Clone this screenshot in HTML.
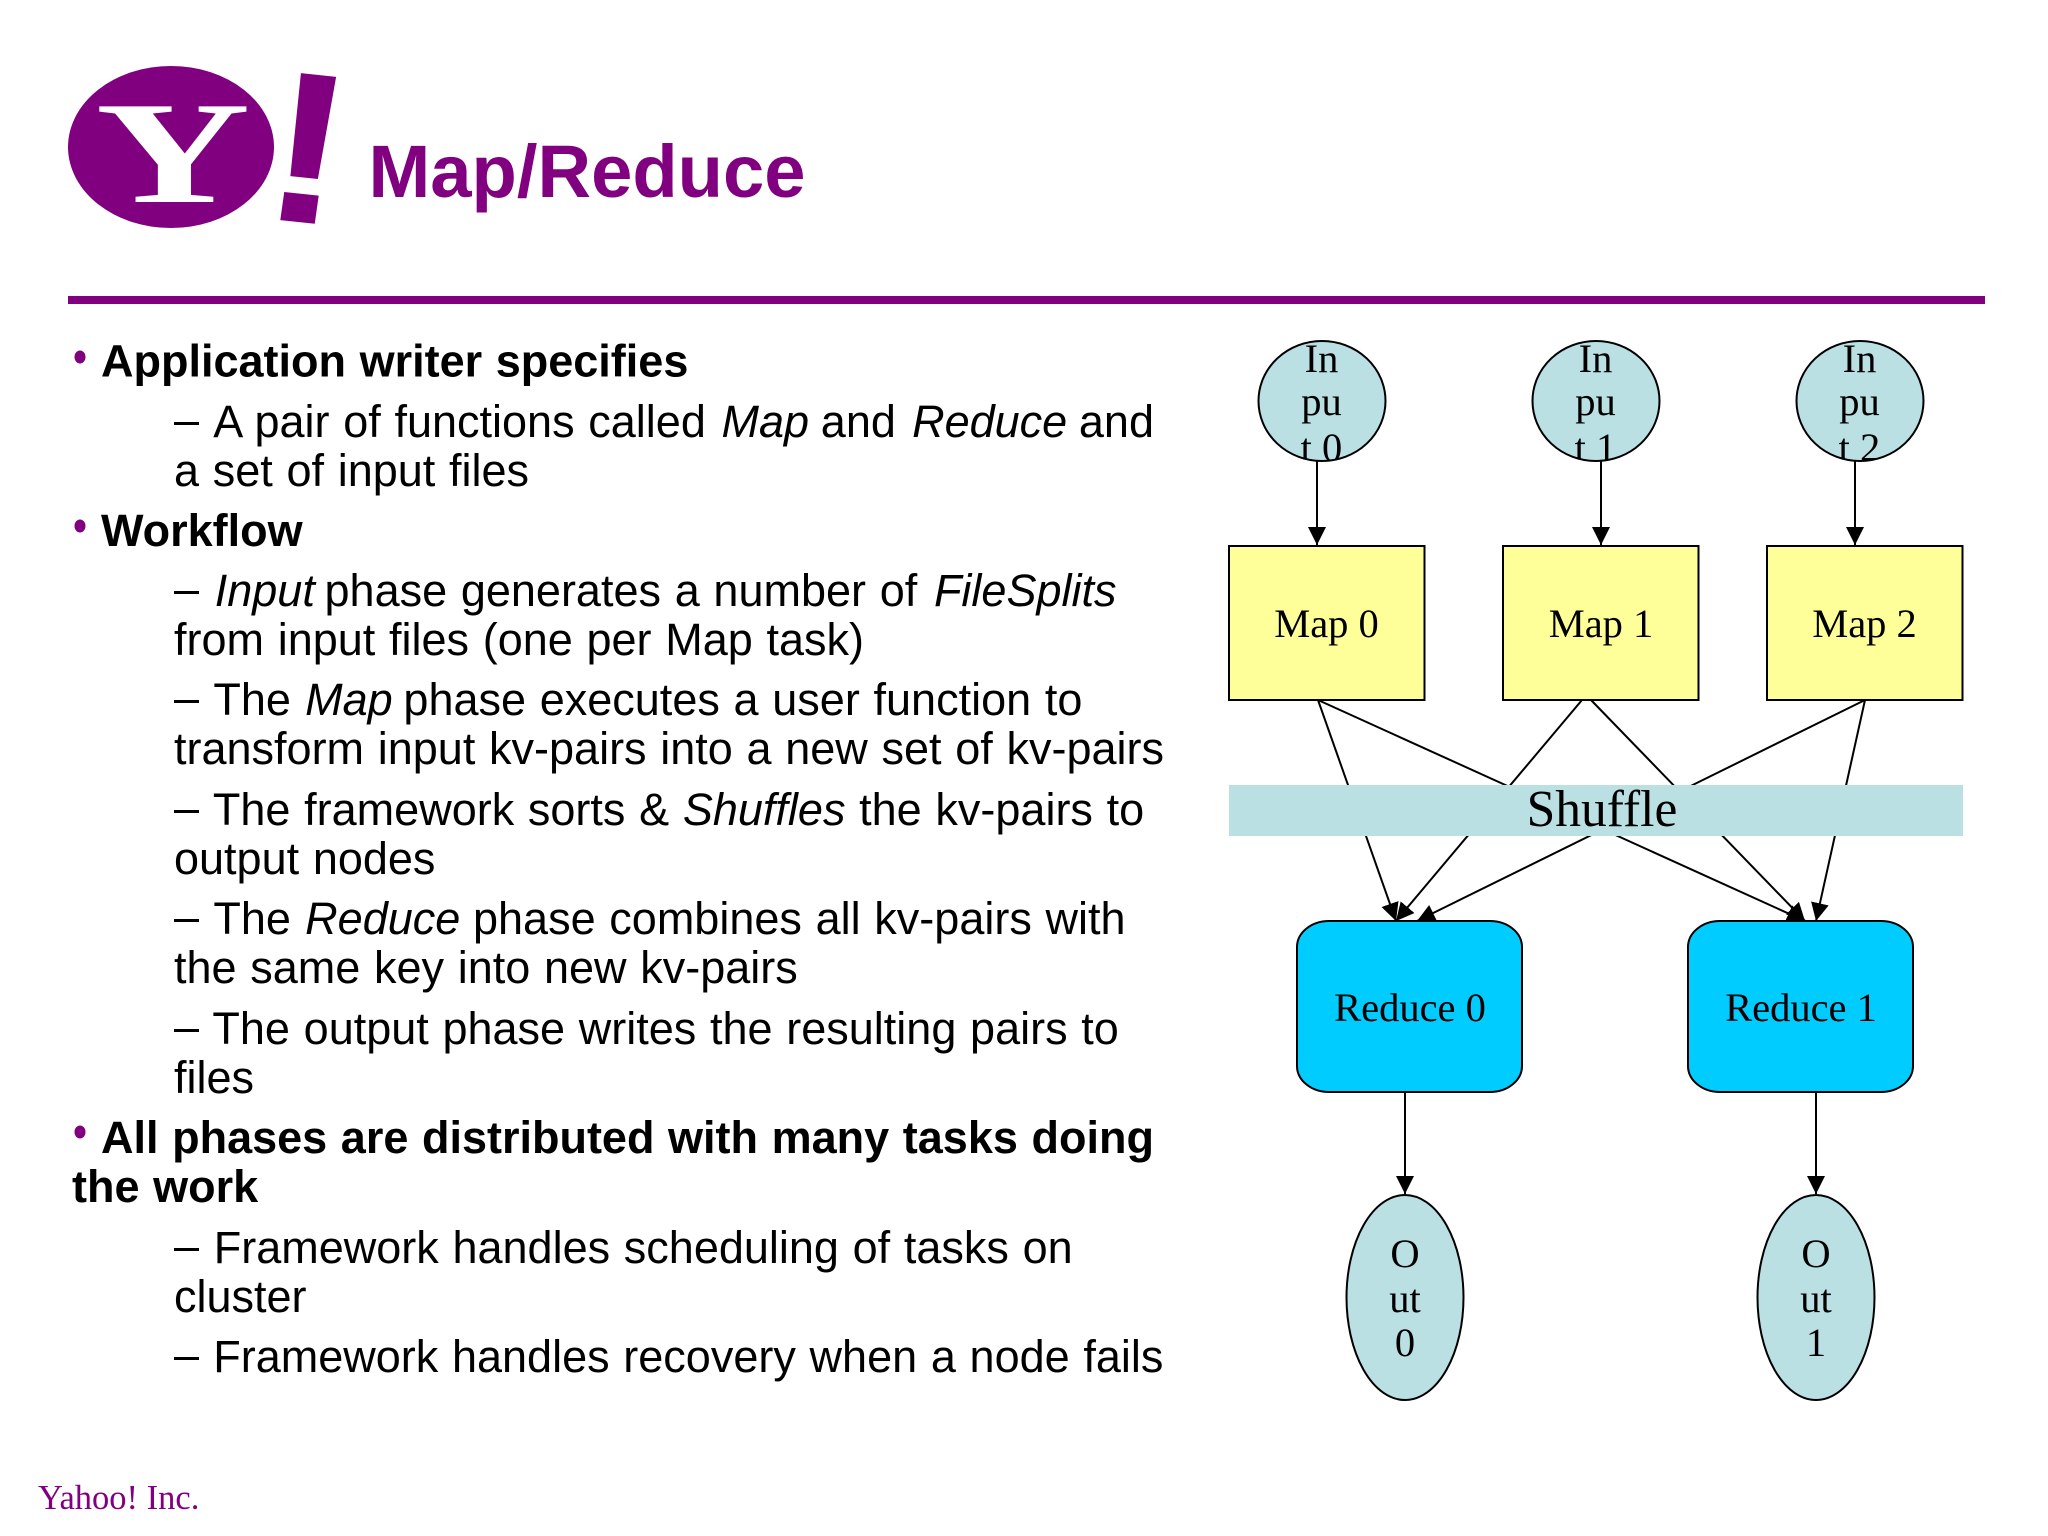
<!DOCTYPE html>
<html><head><meta charset="utf-8"><title>Map/Reduce</title>
<style>
html,body{margin:0;padding:0;background:#fff;width:2048px;height:1536px;overflow:hidden}
svg{display:block}
.b{font:bold 45px "Liberation Sans",sans-serif;fill:#000;word-spacing:1.1px}
.s{font:45px "Liberation Sans",sans-serif;fill:#000;word-spacing:1.2px}
.i{font-style:italic}
.n{font:40.5px "Liberation Serif",serif;fill:#000;text-anchor:middle}
</style></head><body>
<svg xmlns="http://www.w3.org/2000/svg" width="2048" height="1536" viewBox="0 0 2048 1536">
<defs>
<marker id="a" markerUnits="userSpaceOnUse" markerWidth="20" markerHeight="20" refX="18" refY="9" orient="auto"><path d="M0,0 L18,9 L0,18 z" fill="#000"/></marker>
<clipPath id="c0"><ellipse cx="1322" cy="401" rx="63.5" ry="60"/></clipPath>
<clipPath id="c1"><ellipse cx="1596" cy="401" rx="63.5" ry="60"/></clipPath>
<clipPath id="c2"><ellipse cx="1860" cy="401" rx="63.5" ry="60"/></clipPath>
</defs>
<!-- logo -->
<ellipse cx="171" cy="147" rx="103" ry="81" fill="#800080"/>
<text transform="translate(173,202) scale(1.47,1)" font-family="Liberation Serif" font-weight="bold" font-size="146" fill="#fff" text-anchor="middle">Y</text>
<text transform="translate(298,222) rotate(6) skewX(-2) scale(1.12,0.98)" font-family="Liberation Sans" font-weight="bold" font-size="220" fill="#800080" text-anchor="middle">!</text>
<text x="368.5" y="197" font-family="Liberation Sans" font-weight="bold" font-size="74.2" fill="#800080">Map/Reduce</text>
<rect x="68" y="296" width="1917" height="8" fill="#800080"/>
<!-- left text -->
<ellipse cx="80" cy="357" rx="5.5" ry="6.5" fill="#800080"/>
<ellipse cx="80" cy="526" rx="5.5" ry="6.5" fill="#800080"/>
<ellipse cx="80" cy="1132" rx="5.5" ry="6.5" fill="#800080"/>
<text class="b" x="101" y="376.5">Application writer specifies</text>
<text class="s" x="174" y="437"><tspan dy="-2">–</tspan><tspan dy="2" dx="3"> A pair of functions called </tspan><tspan class="i" dx="2">Map</tspan><tspan dx="-2"> and </tspan><tspan class="i" dx="2.5">Reduce</tspan><tspan dx="-2"> and</tspan></text>
<text class="s" x="174" y="486">a set of input files</text>
<text class="b" x="101" y="546">Workflow</text>
<text class="s" x="174" y="606"><tspan dy="-2">–</tspan><tspan dy="2"> </tspan><tspan class="i" dx="2">Input</tspan><tspan dx="-4"> phase generates a number of </tspan><tspan class="i" dx="3">FileSplits</tspan></text>
<text class="s" x="174" y="655">from input files (one per Map task)</text>
<text class="s" x="174" y="715"><tspan dy="-2">–</tspan><tspan dy="2" dx="1.5"> The </tspan><tspan class="i" dx="0.5">Map</tspan><tspan dx="-3"> phase executes a user function to</tspan></text>
<text class="s" x="174" y="764">transform input kv-pairs into a new set of kv-pairs</text>
<text class="s" x="174" y="825"><tspan dy="-2">–</tspan><tspan dy="2" dx="1"> The framework sorts &amp; </tspan><tspan class="i">Shuffles</tspan> the kv-pairs to</text>
<text class="s" x="174" y="874">output nodes</text>
<text class="s" x="174" y="934"><tspan dy="-2">–</tspan><tspan dy="2" dx="1.5"> The </tspan><tspan class="i" dx="0.5">Reduce</tspan><tspan dx="-1"> phase combines all kv-pairs with</tspan></text>
<text class="s" x="174" y="983">the same key into new kv-pairs</text>
<text class="s" x="174" y="1044"><tspan dy="-2">–</tspan><tspan dy="2" dx="0.5"> The output phase writes the resulting pairs to</tspan></text>
<text class="s" x="174" y="1093">files</text>
<text class="b" x="101" y="1153">All phases are distributed with many tasks doing</text>
<text class="b" x="72" y="1202">the work</text>
<text class="s" x="174" y="1263"><tspan dy="-2">–</tspan><tspan dy="2" dx="1"> Framework handles scheduling of tasks on</tspan></text>
<text class="s" x="174" y="1312">cluster</text>
<text class="s" x="174" y="1372"><tspan dy="-2">–</tspan><tspan dy="2" dx="0.5"> Framework handles recovery when a node fails</tspan></text>
<text x="38" y="1509" font-family="Liberation Serif" font-size="34.5" fill="#800080">Yahoo! Inc.</text>
<!-- connectors -->
<g stroke="#000" stroke-width="2" fill="none">
<line x1="1317" y1="461" x2="1317" y2="545" marker-end="url(#a)"/>
<line x1="1601" y1="461" x2="1601" y2="545" marker-end="url(#a)"/>
<line x1="1855" y1="461" x2="1855" y2="545" marker-end="url(#a)"/>
<line x1="1318" y1="700" x2="1396" y2="921" marker-end="url(#a)"/>
<line x1="1318" y1="700" x2="1805" y2="921" marker-end="url(#a)"/>
<line x1="1582" y1="700" x2="1396" y2="921" marker-end="url(#a)"/>
<line x1="1591" y1="700" x2="1805" y2="921" marker-end="url(#a)"/>
<line x1="1865" y1="700" x2="1417" y2="921" marker-end="url(#a)"/>
<line x1="1865" y1="700" x2="1816" y2="921" marker-end="url(#a)"/>
<line x1="1405" y1="1092" x2="1405" y2="1194" marker-end="url(#a)"/>
<line x1="1816" y1="1092" x2="1816" y2="1194" marker-end="url(#a)"/>
</g>
<!-- nodes -->
<g stroke="#000" stroke-width="2">
<ellipse cx="1322" cy="401" rx="63.5" ry="60" fill="#bae0e4"/>
<ellipse cx="1596" cy="401" rx="63.5" ry="60" fill="#bae0e4"/>
<ellipse cx="1860" cy="401" rx="63.5" ry="60" fill="#bae0e4"/>
<rect x="1229" y="546" width="195.5" height="154" fill="#ffff99"/>
<rect x="1503" y="546" width="195.5" height="154" fill="#ffff99"/>
<rect x="1767" y="546" width="195.5" height="154" fill="#ffff99"/>
<rect x="1297" y="921" width="225" height="171" rx="32" ry="26" fill="#00ccff"/>
<rect x="1688" y="921" width="225" height="171" rx="32" ry="26" fill="#00ccff"/>
<ellipse cx="1405" cy="1297.5" rx="58.5" ry="102.5" fill="#bae0e4"/>
<ellipse cx="1816" cy="1297.5" rx="58.5" ry="102.5" fill="#bae0e4"/>
</g>
<rect x="1229" y="785" width="734" height="51" fill="#bae0e4"/>
<text x="1602" y="826" font-family="Liberation Serif" font-size="51.5" text-anchor="middle" fill="#000">Shuffle</text>
<!-- node labels -->
<g clip-path="url(#c0)"><text class="n" x="1321.5" y="372">In</text><text class="n" x="1321.5" y="415">pu</text><text class="n" x="1321.5" y="461">t 0</text></g>
<g clip-path="url(#c1)"><text class="n" x="1595.5" y="372">In</text><text class="n" x="1595.5" y="415">pu</text><text class="n" x="1595.5" y="461">t 1</text></g>
<g clip-path="url(#c2)"><text class="n" x="1859.5" y="372">In</text><text class="n" x="1859.5" y="415">pu</text><text class="n" x="1859.5" y="461">t 2</text></g>
<text class="n" x="1326.5" y="637">Map 0</text>
<text class="n" x="1601" y="637">Map 1</text>
<text class="n" x="1864.5" y="637">Map 2</text>
<text class="n" x="1410" y="1021">Reduce 0</text>
<text class="n" x="1801" y="1021">Reduce 1</text>
<text class="n" x="1405" y="1267">O</text><text class="n" x="1405" y="1312">ut</text><text class="n" x="1405" y="1356">0</text>
<text class="n" x="1816" y="1267">O</text><text class="n" x="1816" y="1312">ut</text><text class="n" x="1816" y="1356">1</text>
</svg>
</body></html>
